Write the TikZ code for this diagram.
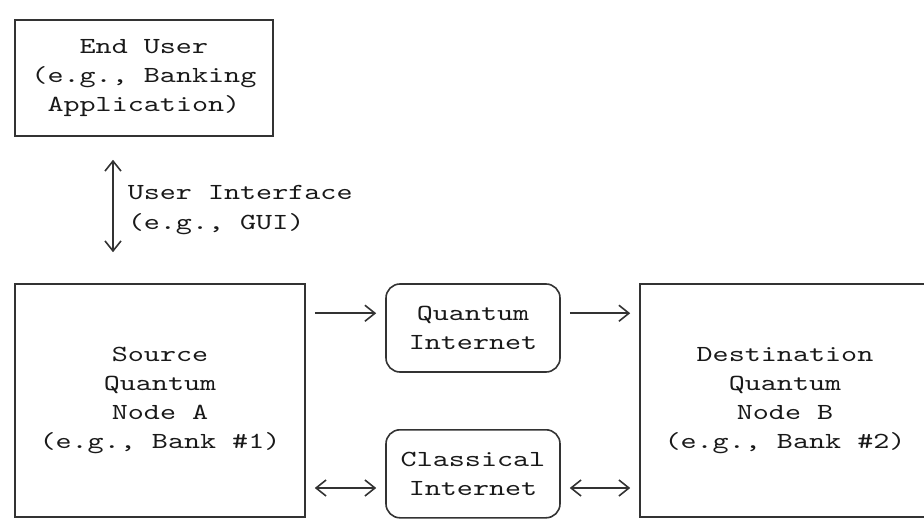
\documentclass[tikz,border=0pt]{standalone}
\usepackage{fontspec}
\setmonofont{lmmono10-regular.otf}[FakeStretch=1.33]
\usetikzlibrary{arrows.meta}
\tikzset{
  every node/.style={font=\fontsize{23}{29.25}\selectfont\ttfamily, text=black!90},
  box/.style={draw=black!80, line width=1.6pt, inner sep=0pt, align=center},
  net/.style={draw=black!80, line width=1.6pt, rounded corners=14pt, inner sep=0pt,
    align=center, minimum width=174pt, minimum height=88pt},
  link/.style={draw=black!80, line width=1.6pt, shorten <=9pt, shorten >=9pt}
}

\begin{document}
\begin{tikzpicture}[x=1pt, y=-1pt, >={Straight Barb[length=10pt,width=16pt]}]
	\useasboundingbox (0, 0) rectangle (924, 521);
	\node [box, minimum width=257.7pt, minimum height=116pt] (EU) at (143.9, 78) {End User\\(e.g., Banking\\Application)};
	\node [box, minimum width=290pt, minimum height=233pt] (SA) at (160, 400.5) {Source\\Quantum\\Node A\\(e.g., Bank \#1)};
	\node [box, minimum width=290pt, minimum height=233pt] (DB) at (785, 400.5) {Destination\\Quantum\\Node B\\(e.g., Bank \#2)};
	\node [net] (QI) at (473, 328) {Quantum\\Internet};
	\node [net] (CI) at (473, 473.8) {Classical\\Internet};
	\coordinate (UI) at (113, 0);
	\coordinate (Q1) at (0, 313.25);
	\coordinate (C1) at (0, 488);
	\draw [link, <->, shorten <=23pt, shorten >=31pt] (EU.south -| UI) -- node [right, align=left, inner sep=0pt, xshift=14pt] (UIL) {User Interface\\(e.g., GUI)} (SA.north -| UI);
	\draw [link, ->] (SA.east |- Q1) -- (QI.west |- Q1);
	\draw [link, ->] (QI.east |- Q1) -- (DB.west |- Q1);
	\draw [link, <->] (SA.east |- C1) -- (CI.west |- C1);
	\draw [link, <->] (CI.east |- C1) -- (DB.west |- C1);
\end{tikzpicture}
\end{document}
